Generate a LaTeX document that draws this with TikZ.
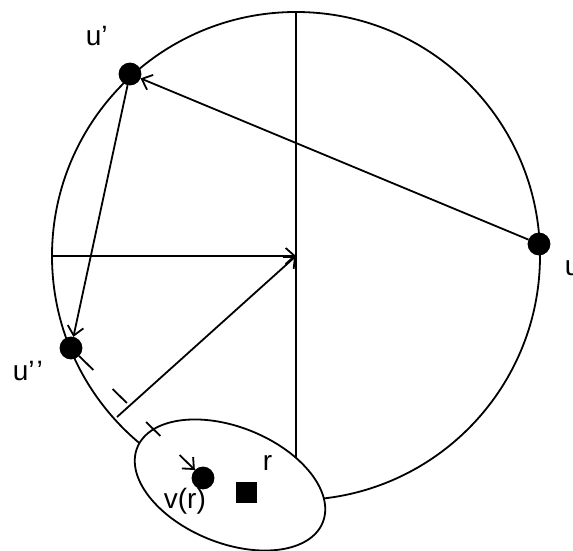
\documentclass[tikz,border=0pt]{standalone}
\usepackage{fontspec}
\setmainfont{Liberation Sans}
\usetikzlibrary{arrows.meta,shapes.geometric}

\begin{document}
\begin{tikzpicture}[x=1pt, y=-1pt,
  line width=1.8pt,
  every node/.style={font=\fontsize{28}{30}\selectfont},
  vtx/.style={draw, circle, fill, inner sep=0pt, minimum size=21pt},
  sq/.style={draw, rectangle, fill, inner sep=0pt, minimum size=19pt},
  lbl/.style={anchor=base west, inner sep=0pt},
  arr/.style={-{Straight Barb[length=9pt, width=16pt]}}
]
\useasboundingbox (0,0) rectangle (573,551);
\coordinate (o)    at (296,256);
\coordinate (top)  at (296,12);
\coordinate (bot)  at (296,470);
\coordinate (w)    at (52,256);
\coordinate (foot) at (117,417);
\draw (o) circle[radius=244];
\draw (top) -- (bot);
\node[vtx] (u)  at (539,244) {};
\node[vtx] (u1) at (130,74)  {};
\node[vtx] (u2) at (71,348)  {};
\draw[arr] (u)    -- (u1);
\draw[arr] (u1)   -- (u2);
\draw[arr] (w)    -- (o);
\draw[arr] (foot) -- (o);
\node[draw, ellipse, fill=white, minimum width=200pt, minimum height=116pt,
      rotate=-22] (reg) at (230,485) {};
\node[vtx] (v)  at (203,478) {};
\node[sq]  (rt) at (246.5,492.5) {};
\draw[arr, dash pattern=on 20pt off 27pt] (u2) -- (v);
\node[lbl] (lu)  at (564,275) {u};
\node[lbl] (lu1) at (85,46)   {u'};
\node[lbl] (lu2) at (12,380)  {u'\kern2pt'};
\node[lbl] (lr)  at (262,470) {r};
\node[lbl] (lv)  at (163,508) {v(r)};
\end{tikzpicture}
\end{document}
